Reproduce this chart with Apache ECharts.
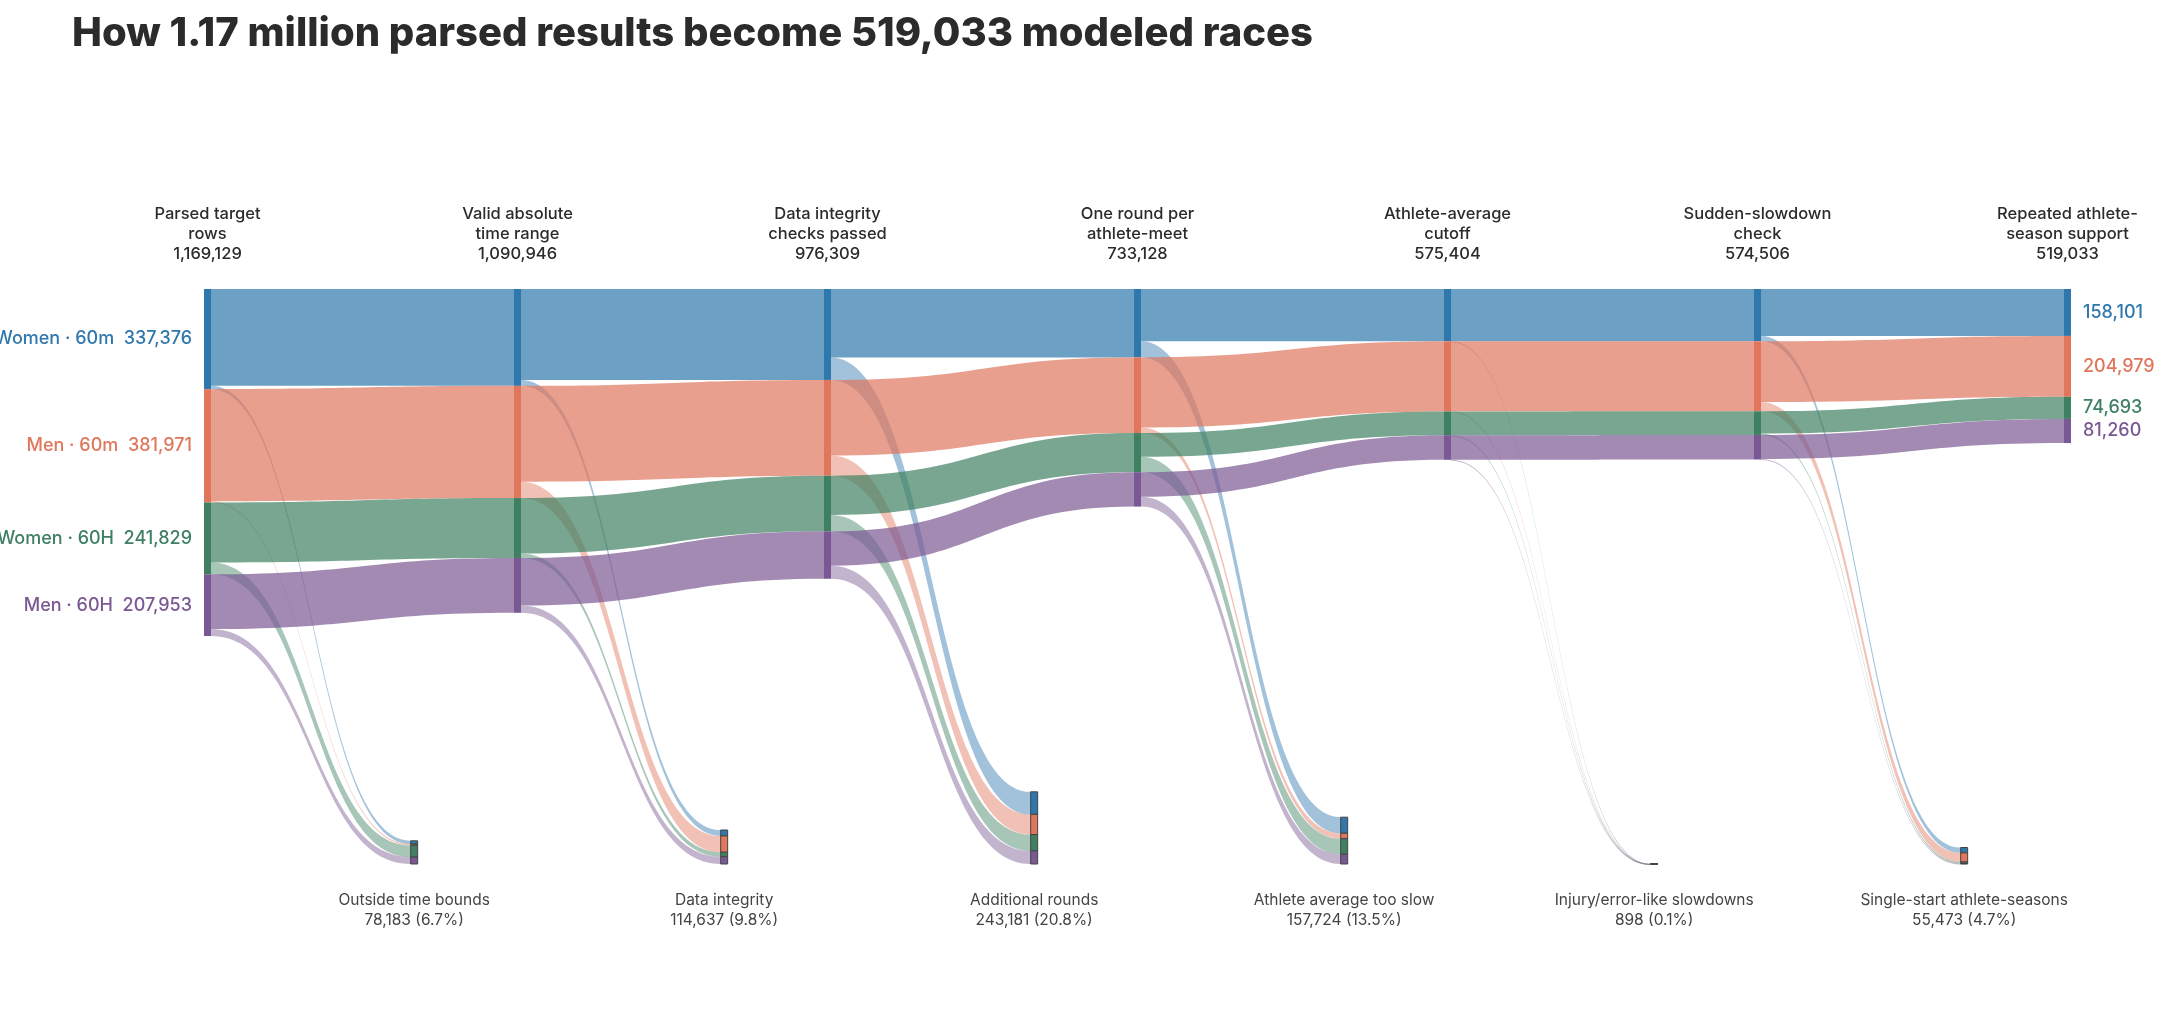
<!DOCTYPE html>
<html><head><meta charset="utf-8">
<script src="https://cdn.jsdelivr.net/npm/echarts@6/dist/echarts.min.js"></script>
<style>html,body{margin:0;padding:0;background:#fff}#c{width:2160px;height:1029px}</style>
</head><body><div id="c"></div>
<script>
const categories = ['Women · 60m', 'Men · 60m', 'Women · 60H', 'Men · 60H'];
const catColors = ['#2f78ad', '#e0765c', '#3f8062', '#7a5893'];
const stageNames = ['Parsed target\nrows', 'Valid absolute\ntime range', 'Data integrity\nchecks passed', 'One round per\nathlete-meet', 'Athlete-average\ncutoff', 'Sudden-slowdown\ncheck', 'Repeated athlete-\nseason support'];
const stageTotals = [1169129, 1090946, 976309, 733128, 575404, 574506, 519033];
// per-stage values by category (rows: stage, cols: category)
const stage0 = [337376, 381971, 241829, 207953];
const stage1 = [326376, 377971, 201829, 184770];
const stage2 = [306376, 322971, 186829, 160133];
const stage3 = [230376, 254971, 131829, 115952];
const stage4 = [176324, 236329, 79893, 82858];
const stage5 = [176074, 235979, 79693, 82760];
const stage6 = [158101, 204979, 74693, 81260];
const stages = [stage0, stage1, stage2, stage3, stage4, stage5, stage6];
const dropNames = ['Outside time bounds', 'Data integrity', 'Additional rounds', 'Athlete average too slow', 'Injury/error-like slowdowns', 'Single-start athlete-seasons'];
const dropTotals = [78183, 114637, 243181, 157724, 898, 55473];
const extentTotal = 1937300;

const fmt = v => v.toLocaleString('en-US');
const nodes = [], links = [];
for (let i = 0; i < stages.length; i++) {
  for (let k = 0; k < 4; k++) {
    const n = {name: 'S' + i + '_' + k, depth: i * 3, itemStyle: {color: catColors[k]}, label: {show: false}};
    if (i === 0) n.label = {show: true, position: 'left', distance: 12, formatter: categories[k] + '  ' + fmt(stages[i][k]), color: catColors[k], fontSize: 18, fontWeight: 500};
    if (i === stages.length - 1) n.label = {show: true, position: 'right', distance: 12, formatter: fmt(stages[i][k]), color: catColors[k], fontSize: 18, fontWeight: 500};
    nodes.push(n);
  }
  if (i < stages.length - 1) {
    nodes.push({name: 'P' + i, depth: i * 3 + 2, value: extentTotal - dropTotals[i], itemStyle: {color: 'rgba(0,0,0,0)', borderWidth: 0}, label: {show: false}, emphasis: {disabled: true}});
    for (let k = 0; k < 4; k++) {
      const d = stages[i][k] - stages[i + 1][k];
      const n = {name: 'D' + i + '_' + k, depth: i * 3 + 2, itemStyle: {color: catColors[k], borderColor: '#444', borderWidth: 1}, label: {show: false}};
      if (k === 3) n.label = {show: true, position: 'bottom', distance: 26, formatter: dropNames[i] + '\n' + fmt(dropTotals[i]) + ' (' + (dropTotals[i] / stageTotals[0] * 100).toFixed(1) + '%)', color: '#444', fontSize: 15.5, lineHeight: 20, align: 'center'};
      nodes.push(n);
      links.push({source: 'S' + i + '_' + k, target: 'S' + (i + 1) + '_' + k, value: stages[i + 1][k], lineStyle: {color: catColors[k], opacity: 0.7}});
      links.push({source: 'S' + i + '_' + k, target: 'D' + i + '_' + k, value: d, lineStyle: {color: catColors[k], opacity: 0.45}});
    }
  }
}

const L = 204, R = 89, NW = 7;
const kx = (2160 - L - R - NW) / 18;
const graphics = [{type: 'text', left: 72, top: 14, style: {text: 'How 1.17 million parsed results become 519,033 modeled races', font: '800 40px Inter', fill: '#2b2b2b'}}];
for (let i = 0; i < stageNames.length; i++) {
  graphics.push({type: 'text', x: L + i * 3 * kx + NW / 2, y: 204, style: {text: stageNames[i] + '\n' + fmt(stageTotals[i]), font: '500 16.5px Inter', fill: '#2b2b2b', align: 'center', lineHeight: 20}});
}

const chart = echarts.init(document.getElementById('c'));
chart.setOption({
  animation: false,
  textStyle: {fontFamily: 'Inter'},
  graphic: graphics,
  series: [{
    type: 'sankey', left: L, right: R, top: 289, bottom: 165,
    nodeWidth: NW, nodeGap: 0, layoutIterations: 0, draggable: false,
    data: nodes, links: links,
    lineStyle: {curveness: 0.5},
    emphasis: {disabled: true}
  }]
});
</script></body></html>
